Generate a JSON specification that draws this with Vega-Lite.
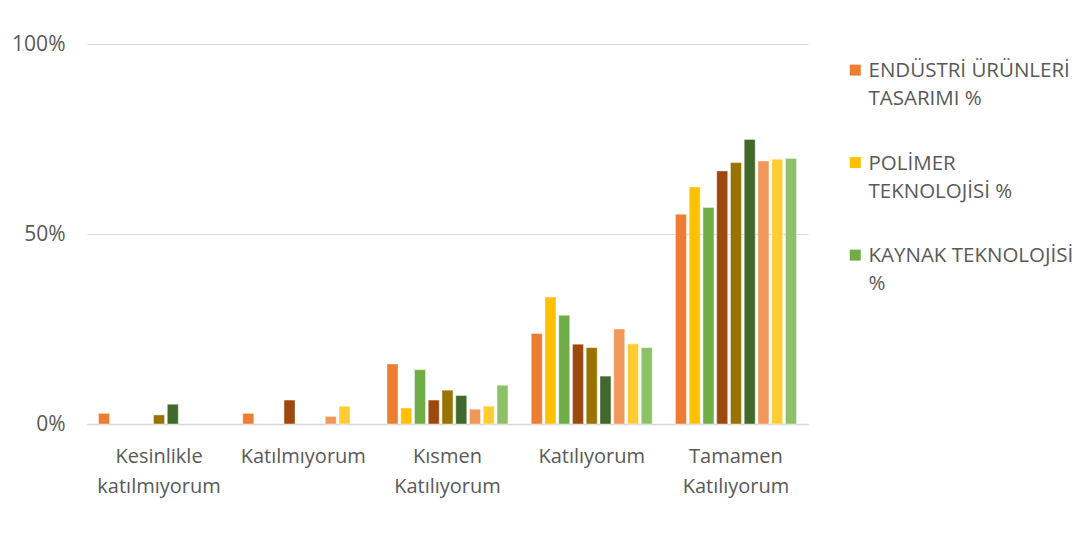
{
  "$schema": "https://vega.github.io/schema/vega-lite/v6.json",
  "width": 721,
  "height": 380,
  "autosize": {"type": "none"},
  "padding": {"left": 87, "top": 44, "right": 279, "bottom": 129},
  "background": "white",
  "config": {
    "view": {"stroke": null},
    "font": "Open Sans",
    "style": {"guide-label": {"lineHeight": 28}},
    "axis": {"labelColor": "#595959", "labelFont": "Open Sans"},
    "legend": {"labelColor": "#595959", "labelFont": "Open Sans"}
  },
  "data": {
    "values": [
      {"cat": "Kesinlikle katılmıyorum", "series": "ENDÜSTRİ ÜRÜNLERİ TASARIMI %", "value": 0.028},
      {"cat": "Kesinlikle katılmıyorum", "series": "Seri 5 %", "value": 0.024},
      {"cat": "Kesinlikle katılmıyorum", "series": "Seri 6 %", "value": 0.052},
      {"cat": "Katılmıyorum", "series": "ENDÜSTRİ ÜRÜNLERİ TASARIMI %", "value": 0.028},
      {"cat": "Katılmıyorum", "series": "Seri 4 %", "value": 0.063},
      {"cat": "Katılmıyorum", "series": "Seri 7 %", "value": 0.020},
      {"cat": "Katılmıyorum", "series": "Seri 8 %", "value": 0.047},
      {"cat": "Kısmen Katılıyorum", "series": "ENDÜSTRİ ÜRÜNLERİ TASARIMI %", "value": 0.158},
      {"cat": "Kısmen Katılıyorum", "series": "POLİMER TEKNOLOJİSİ %", "value": 0.042},
      {"cat": "Kısmen Katılıyorum", "series": "KAYNAK TEKNOLOJİSİ %", "value": 0.143},
      {"cat": "Kısmen Katılıyorum", "series": "Seri 4 %", "value": 0.063},
      {"cat": "Kısmen Katılıyorum", "series": "Seri 5 %", "value": 0.089},
      {"cat": "Kısmen Katılıyorum", "series": "Seri 6 %", "value": 0.075},
      {"cat": "Kısmen Katılıyorum", "series": "Seri 7 %", "value": 0.039},
      {"cat": "Kısmen Katılıyorum", "series": "Seri 8 %", "value": 0.047},
      {"cat": "Kısmen Katılıyorum", "series": "Seri 9 %", "value": 0.102},
      {"cat": "Katılıyorum", "series": "ENDÜSTRİ ÜRÜNLERİ TASARIMI %", "value": 0.238},
      {"cat": "Katılıyorum", "series": "POLİMER TEKNOLOJİSİ %", "value": 0.334},
      {"cat": "Katılıyorum", "series": "KAYNAK TEKNOLOJİSİ %", "value": 0.286},
      {"cat": "Katılıyorum", "series": "Seri 4 %", "value": 0.210},
      {"cat": "Katılıyorum", "series": "Seri 5 %", "value": 0.201},
      {"cat": "Katılıyorum", "series": "Seri 6 %", "value": 0.126},
      {"cat": "Katılıyorum", "series": "Seri 7 %", "value": 0.250},
      {"cat": "Katılıyorum", "series": "Seri 8 %", "value": 0.211},
      {"cat": "Katılıyorum", "series": "Seri 9 %", "value": 0.201},
      {"cat": "Tamamen Katılıyorum", "series": "ENDÜSTRİ ÜRÜNLERİ TASARIMI %", "value": 0.552},
      {"cat": "Tamamen Katılıyorum", "series": "POLİMER TEKNOLOJİSİ %", "value": 0.624},
      {"cat": "Tamamen Katılıyorum", "series": "KAYNAK TEKNOLOJİSİ %", "value": 0.570},
      {"cat": "Tamamen Katılıyorum", "series": "Seri 4 %", "value": 0.666},
      {"cat": "Tamamen Katılıyorum", "series": "Seri 5 %", "value": 0.688},
      {"cat": "Tamamen Katılıyorum", "series": "Seri 6 %", "value": 0.749},
      {"cat": "Tamamen Katılıyorum", "series": "Seri 7 %", "value": 0.692},
      {"cat": "Tamamen Katılıyorum", "series": "Seri 8 %", "value": 0.697},
      {"cat": "Tamamen Katılıyorum", "series": "Seri 9 %", "value": 0.699}
    ]
  },
  "mark": {"type": "bar", "stroke": "white", "strokeWidth": 0.6, "strokeOpacity": 0.7},
  "encoding": {
    "x": {
      "field": "cat",
      "type": "nominal",
      "sort": ["Kesinlikle katılmıyorum", "Katılmıyorum", "Kısmen Katılıyorum", "Katılıyorum", "Tamamen Katılıyorum"],
      "scale": {"paddingInner": 0.161, "paddingOuter": 0.08},
      "axis": {
        "title": null,
        "labelAngle": 0,
        "labelFontSize": 20,
        "labelLineHeight": 30,
        "labelPadding": 22,
        "labelBaseline": "top",
        "ticks": false,
        "domainColor": "#d9d9d9",
        "domainWidth": 1.5,
        "labelExpr": "datum.value == 'Kesinlikle katılmıyorum' ? ['Kesinlikle', 'katılmıyorum'] : datum.value == 'Kısmen Katılıyorum' ? ['Kısmen', 'Katılıyorum'] : datum.value == 'Tamamen Katılıyorum' ? ['Tamamen', 'Katılıyorum'] : datum.value"
      }
    },
    "xOffset": {
      "field": "series",
      "type": "nominal",
      "sort": ["ENDÜSTRİ ÜRÜNLERİ TASARIMI %", "POLİMER TEKNOLOJİSİ %", "KAYNAK TEKNOLOJİSİ %", "Seri 4 %", "Seri 5 %", "Seri 6 %", "Seri 7 %", "Seri 8 %", "Seri 9 %"],
      "scale": {
        "domain": ["ENDÜSTRİ ÜRÜNLERİ TASARIMI %", "POLİMER TEKNOLOJİSİ %", "KAYNAK TEKNOLOJİSİ %", "Seri 4 %", "Seri 5 %", "Seri 6 %", "Seri 7 %", "Seri 8 %", "Seri 9 %"],
        "paddingInner": 0.2,
        "paddingOuter": 0
      }
    },
    "y": {
      "field": "value",
      "type": "quantitative",
      "scale": {"domain": [0, 1]},
      "axis": {
        "title": null,
        "values": [0, 0.5, 1],
        "format": ".0%",
        "labelFontSize": 21,
        "labelPadding": 22,
        "ticks": false,
        "domain": false,
        "gridColor": "#d9d9d9",
        "gridWidth": 1.2
      }
    },
    "color": {
      "field": "series",
      "type": "nominal",
      "scale": {
        "domain": ["ENDÜSTRİ ÜRÜNLERİ TASARIMI %", "POLİMER TEKNOLOJİSİ %", "KAYNAK TEKNOLOJİSİ %", "Seri 4 %", "Seri 5 %", "Seri 6 %", "Seri 7 %", "Seri 8 %", "Seri 9 %"],
        "range": ["#ED7D31", "#FFC000", "#70AD47", "#9E480E", "#997300", "#43682B", "#F1975A", "#FFCD33", "#8CC168"]
      },
      "legend": {
        "title": null,
        "orient": "none",
        "legendX": 758,
        "legendY": 7,
        "values": ["ENDÜSTRİ ÜRÜNLERİ TASARIMI %", "POLİMER TEKNOLOJİSİ %", "KAYNAK TEKNOLOJİSİ %"],
        "symbolType": "M-1,0.61H1V2.61H-1Z",
        "symbolSize": 121,
        "symbolStrokeWidth": 0,
        "labelFontSize": 20.5,
        "labelBaseline": "top",
        "labelOffset": 3,
        "labelLimit": 260,
        "rowPadding": 33.5,
        "labelExpr": "datum.value == 'ENDÜSTRİ ÜRÜNLERİ TASARIMI %' ? ['ENDÜSTRİ ÜRÜNLERİ', 'TASARIMI %'] : datum.value == 'POLİMER TEKNOLOJİSİ %' ? ['POLİMER', 'TEKNOLOJİSİ %'] : ['KAYNAK TEKNOLOJİSİ', '%']"
      }
    }
  }
}
